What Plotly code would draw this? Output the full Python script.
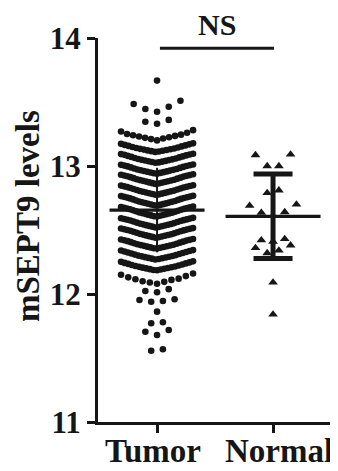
import plotly.graph_objects as go

categories = ["Tumor", "Normal"]
y_tick_values = [11, 12, 13, 14]

# Tumor mSEPT9 values, grouped by the horizontal rows of the scatter (bottom -> top)
tumor_rows = [
    [11.557, 11.568],
    [11.68, 11.705, 11.719],
    [11.771, 11.779],
    [11.862],
    [11.94, 11.945, 11.953, 11.959],
    [12.014, 12.024, 12.038],
    [12.08, 12.09, 12.095, 12.10, 12.11, 12.115, 12.12, 12.13, 12.14, 12.15, 12.16],
    [12.185, 12.188, 12.191, 12.194, 12.197, 12.20, 12.203, 12.206, 12.209, 12.212, 12.215,
     12.219, 12.223, 12.227, 12.231, 12.235, 12.239, 12.243, 12.247, 12.251, 12.255],
    [12.27, 12.273, 12.276, 12.279, 12.282, 12.285, 12.288, 12.291, 12.294, 12.297, 12.30,
     12.304, 12.308, 12.312, 12.316, 12.32, 12.324, 12.328, 12.332, 12.336, 12.34, 12.343],
    [12.355, 12.358, 12.361, 12.364, 12.367, 12.37, 12.373, 12.376, 12.379, 12.382, 12.385,
     12.389, 12.393, 12.397, 12.401, 12.405, 12.409, 12.413, 12.417, 12.42, 12.423, 12.426, 12.43],
    [12.44, 12.443, 12.446, 12.449, 12.452, 12.455, 12.458, 12.461, 12.464, 12.467, 12.47,
     12.474, 12.478, 12.482, 12.486, 12.49, 12.494, 12.497, 12.5, 12.503, 12.506, 12.509, 12.512, 12.515],
    [12.52, 12.523, 12.526, 12.529, 12.532, 12.535, 12.538, 12.541, 12.544, 12.547, 12.55,
     12.554, 12.558, 12.562, 12.566, 12.57, 12.574, 12.577, 12.58, 12.583, 12.586, 12.589, 12.592, 12.595],
    [12.605, 12.608, 12.611, 12.614, 12.617, 12.62, 12.623, 12.626, 12.629, 12.632, 12.635, 12.638,
     12.642, 12.646, 12.65, 12.654, 12.658, 12.662, 12.665, 12.668, 12.671, 12.674, 12.677, 12.68, 12.683],
    [12.69, 12.693, 12.696, 12.699, 12.702, 12.705, 12.708, 12.711, 12.714, 12.717, 12.72, 12.723,
     12.727, 12.731, 12.735, 12.739, 12.743, 12.747, 12.75, 12.753, 12.756, 12.759, 12.762, 12.765, 12.768],
    [12.775, 12.778, 12.781, 12.784, 12.787, 12.79, 12.793, 12.796, 12.799, 12.802, 12.805, 12.808,
     12.812, 12.816, 12.82, 12.824, 12.828, 12.832, 12.835, 12.838, 12.841, 12.844, 12.847, 12.85],
    [12.86, 12.863, 12.866, 12.869, 12.872, 12.875, 12.878, 12.881, 12.884, 12.887, 12.89, 12.893,
     12.897, 12.901, 12.905, 12.909, 12.913, 12.917, 12.92, 12.923, 12.926, 12.929, 12.932, 12.935],
    [12.94, 12.943, 12.946, 12.949, 12.952, 12.955, 12.958, 12.961, 12.964, 12.967, 12.97, 12.973,
     12.977, 12.981, 12.985, 12.989, 12.993, 12.997, 13.0, 13.003, 13.006, 13.009, 13.012],
    [13.025, 13.028, 13.031, 13.034, 13.037, 13.04, 13.043, 13.046, 13.049, 13.052, 13.055,
     13.059, 13.063, 13.067, 13.071, 13.075, 13.079, 13.083, 13.087, 13.09, 13.093, 13.096],
    [13.11, 13.113, 13.116, 13.119, 13.122, 13.125, 13.128, 13.131, 13.134, 13.137,
     13.141, 13.145, 13.149, 13.153, 13.157, 13.161, 13.165, 13.169, 13.173, 13.177],
    [13.20, 13.21, 13.215, 13.22, 13.225, 13.23, 13.235, 13.24, 13.245, 13.25, 13.26, 13.27, 13.28],
    [13.33, 13.346, 13.36],
    [13.424, 13.445, 13.463, 13.484, 13.51],
    [13.667],
]

# Normal mSEPT9 values, grouped by rows
normal_rows = [
    [11.84],
    [12.09],
    [12.32, 12.34, 12.36, 12.38],
    [12.41, 12.42, 12.43],
    [12.61, 12.635, 12.64, 12.69, 12.70],
    [12.79, 12.81],
    [13.00, 13.00, 13.085, 13.09],
]

# Summary statistics (mean, SD)
tumor_mean = 12.656
tumor_sd = 0.33
normal_mean = 12.607
normal_sd = 0.33
significance_label = "NS"
y_title = "mSEPT9 levels"

# ---- layout geometry (page has an 8px body margin) ----
W, H = 330, 463
M_L, M_R, M_T, M_B = 90, 5, 30, 49
PLOT_W = W - M_L - M_R
PLOT_H = H - M_T - M_B
X_RANGE = [0.491, 2.517]
PX_PER_X = PLOT_W / (X_RANGE[1] - X_RANGE[0])
FONT = "Liberation Serif"
INK = "#161616"


def swarm(rows, center, max_width_px=72.0, max_step_px=11.7):
    xs, ys = [], []
    for row in rows:
        vals = sorted(row)
        n = len(vals)
        step = max_step_px if n < 2 else min(max_step_px, max_width_px / (n - 1))
        for k, v in enumerate(vals):
            if n % 2 == 1:
                m = (k + 1) // 2
                off = 0 if k == 0 else m * step * (-1 if k % 2 == 1 else 1)
            else:
                m = k // 2
                off = (m + 0.5) * step * (-1 if k % 2 == 0 else 1)
            xs.append(center + off / PX_PER_X)
            ys.append(v)
    return xs, ys


tx, ty = swarm(tumor_rows, 1)
nx, ny = swarm(normal_rows, 2)

fig = go.Figure()

# Tumor SD line (behind points)
fig.add_trace(go.Scatter(x=[1, 1], y=[tumor_mean - tumor_sd, tumor_mean + tumor_sd],
                         mode="lines", line=dict(color=INK, width=2), hoverinfo="skip"))

fig.add_trace(go.Scatter(x=tx, y=ty, mode="markers",
                         marker=dict(symbol="circle", size=6.6, color=INK, line=dict(width=0))))
fig.add_trace(go.Scatter(x=nx, y=ny, mode="markers",
                         marker=dict(symbol="triangle-up", size=8.5, color=INK, line=dict(width=0))))

# Normal SD bar with caps
cap = 19.5 / PX_PER_X
fig.add_trace(go.Scatter(x=[2, 2], y=[normal_mean - normal_sd, normal_mean + normal_sd],
                         mode="lines", line=dict(color=INK, width=5), hoverinfo="skip"))
for yv in (normal_mean - normal_sd, normal_mean + normal_sd):
    fig.add_trace(go.Scatter(x=[2 - cap, 2 + cap], y=[yv, yv], mode="lines",
                             line=dict(color=INK, width=5), hoverinfo="skip"))

# Mean lines
half = 47.5 / PX_PER_X
for c, mval in ((1, tumor_mean), (2, normal_mean)):
    fig.add_trace(go.Scatter(x=[c - half, c + half], y=[mval, mval], mode="lines",
                             line=dict(color=INK, width=3.3), hoverinfo="skip"))

# significance bracket
fig.add_trace(go.Scatter(x=[1.025, 2.008], y=[13.92, 13.92], mode="lines",
                         line=dict(color=INK, width=3), hoverinfo="skip"))

y_tick_font = dict(family=FONT, size=31, weight="bold", color=INK)
x_label_font = dict(family=FONT, size=33, weight="bold", color=INK)

# category labels under the ticks (placed as annotations for exact vertical position)
label_shift_px = [-4.5, 5.5]
cat_annotations = [
    dict(text=name, xref="x", yref="paper", x=i + 1 + label_shift_px[i] / PX_PER_X,
         y=1 - (443 - M_T) / PLOT_H, xanchor="center", yanchor="middle",
         showarrow=False, borderpad=0, font=x_label_font)
    for i, name in enumerate(categories)
]

fig.update_layout(
    width=W, height=H,
    margin=dict(l=M_L, r=M_R, t=M_T, b=M_B, pad=0, autoexpand=False),
    paper_bgcolor="white", plot_bgcolor="white",
    showlegend=False,
    font=dict(family=FONT, color=INK),
    xaxis=dict(range=X_RANGE, tickvals=[1, 2], showticklabels=False, automargin=False,
               showgrid=False, zeroline=False, showline=True, linewidth=3, linecolor=INK,
               ticks="outside", ticklen=8, tickwidth=3, tickcolor=INK),
    yaxis=dict(range=[11, 14], tickvals=y_tick_values, automargin=False,
               showgrid=False, zeroline=False, showline=True, linewidth=3, linecolor=INK,
               ticks="outside", ticklen=8, tickwidth=3, tickcolor=INK, tickfont=y_tick_font),
    annotations=[
        dict(text=significance_label, xref="paper", yref="paper",
             x=(208.5 - M_L) / PLOT_W, y=1 - (16 - M_T) / PLOT_H,
             xanchor="center", yanchor="middle", showarrow=False, borderpad=0,
             font=dict(family=FONT, size=30, weight="bold", color=INK)),
        dict(text=y_title, xref="paper", yref="paper",
             x=(20 - M_L) / PLOT_W, y=1 - (208 - M_T) / PLOT_H,
             xanchor="center", yanchor="middle", showarrow=False, textangle=-90,
             font=dict(family=FONT, size=33, weight="bold", color=INK)),
    ] + cat_annotations,
)

fig.write_html("out.html", config={"displayModeBar": False})
